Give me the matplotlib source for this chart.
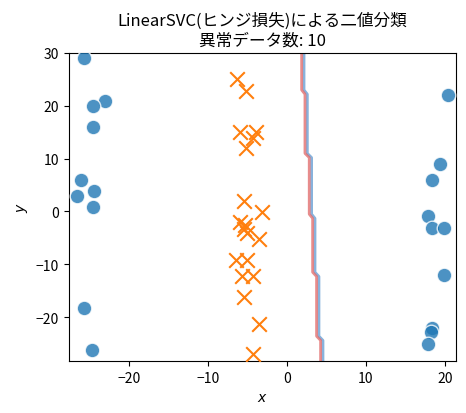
import matplotlib
matplotlib.use('Agg')
import matplotlib.pyplot as plt
import numpy as np

plt.rcParams['font.family'] = ['Noto Sans CJK JP', 'DejaVu Sans']

# 正常クラス(青丸)
blue_x = [-25.7, -23.1, -24.6, -24.6, -26.1, -24.4, -26.6, -24.6, -25.7, -24.7,
          20.4, 19.4, 18.4, 17.9, 18.4, 19.9, 19.9, 18.4, 18.2, 17.9]
blue_y = [29.0, 20.9, 20.0, 16.0, 6.0, 3.8, 3.0, 0.9, -18.2, -26.2,
          22.1, 9.0, 6.0, -0.9, -3.1, -3.1, -12.1, -22.1, -22.9, -25.1]

# もう一方のクラス(オレンジ×)
orange_x = [-6.3, -5.2, -5.9, -3.9, -4.3, -5.2, -5.5, -3.2, -5.9, -5.3,
            -5.5, -5.1, -3.6, -6.4, -5.1, -5.7, -4.3, -5.5, -3.6, -4.3]
orange_y = [25.0, 22.8, 15.1, 15.1, 13.9, 12.0, 1.9, -0.1, -2.0, -2.5,
            -3.4, -4.0, -5.3, -9.1, -9.1, -12.2, -12.2, -16.1, -21.3, -27.0]

# 決定境界(階段状): 帯の上下端と各帯のx
bound_y = [30.0, 23.0, 11.0, -0.5, -11.5, -23.6, -28.3]
bound_x = [1.86, 2.28, 2.82, 3.25, 3.75, 4.26]

n_anomaly = 10

# 階段の頂点列を作る(段差は少し斜め)
px, py = [], []
for i, xv in enumerate(bound_x):
    top = bound_y[i] if i == 0 else bound_y[i] - 0.8
    px += [xv, xv]
    py += [top, bound_y[i + 1]]
px = np.array(px)
py = np.array(py)

fig = plt.figure(figsize=(4.66, 4.14), dpi=100)
ax = fig.add_axes([0.148, 0.1256, 0.8305, 0.744])

ax.plot(px + 0.3, py, color='#6a9fd4', lw=2, alpha=0.8)
ax.plot(px, py, color='#e06666', lw=2, alpha=0.75)

ax.scatter(blue_x, blue_y, s=110, c='#1f77b4', alpha=0.8, edgecolors='white', linewidths=1, zorder=3)
ax.scatter(orange_x, orange_y, s=110, c='#ff7f0e', marker='x', linewidths=1.5, zorder=3)

ax.set_xlim(-27.6, 21.4)
ax.set_ylim(-28.3, 30)
ax.set_xticks([-20, -10, 0, 10, 20])
ax.set_yticks([-20, -10, 0, 10, 20, 30])
ax.set_xlabel('$x$')
ax.set_ylabel('$y$')
ax.set_title('LinearSVC(ヒンジ損失)による二値分類\n異常データ数: %d' % n_anomaly, fontsize=12, linespacing=1.2)

fig.savefig('out.png', dpi=100)
